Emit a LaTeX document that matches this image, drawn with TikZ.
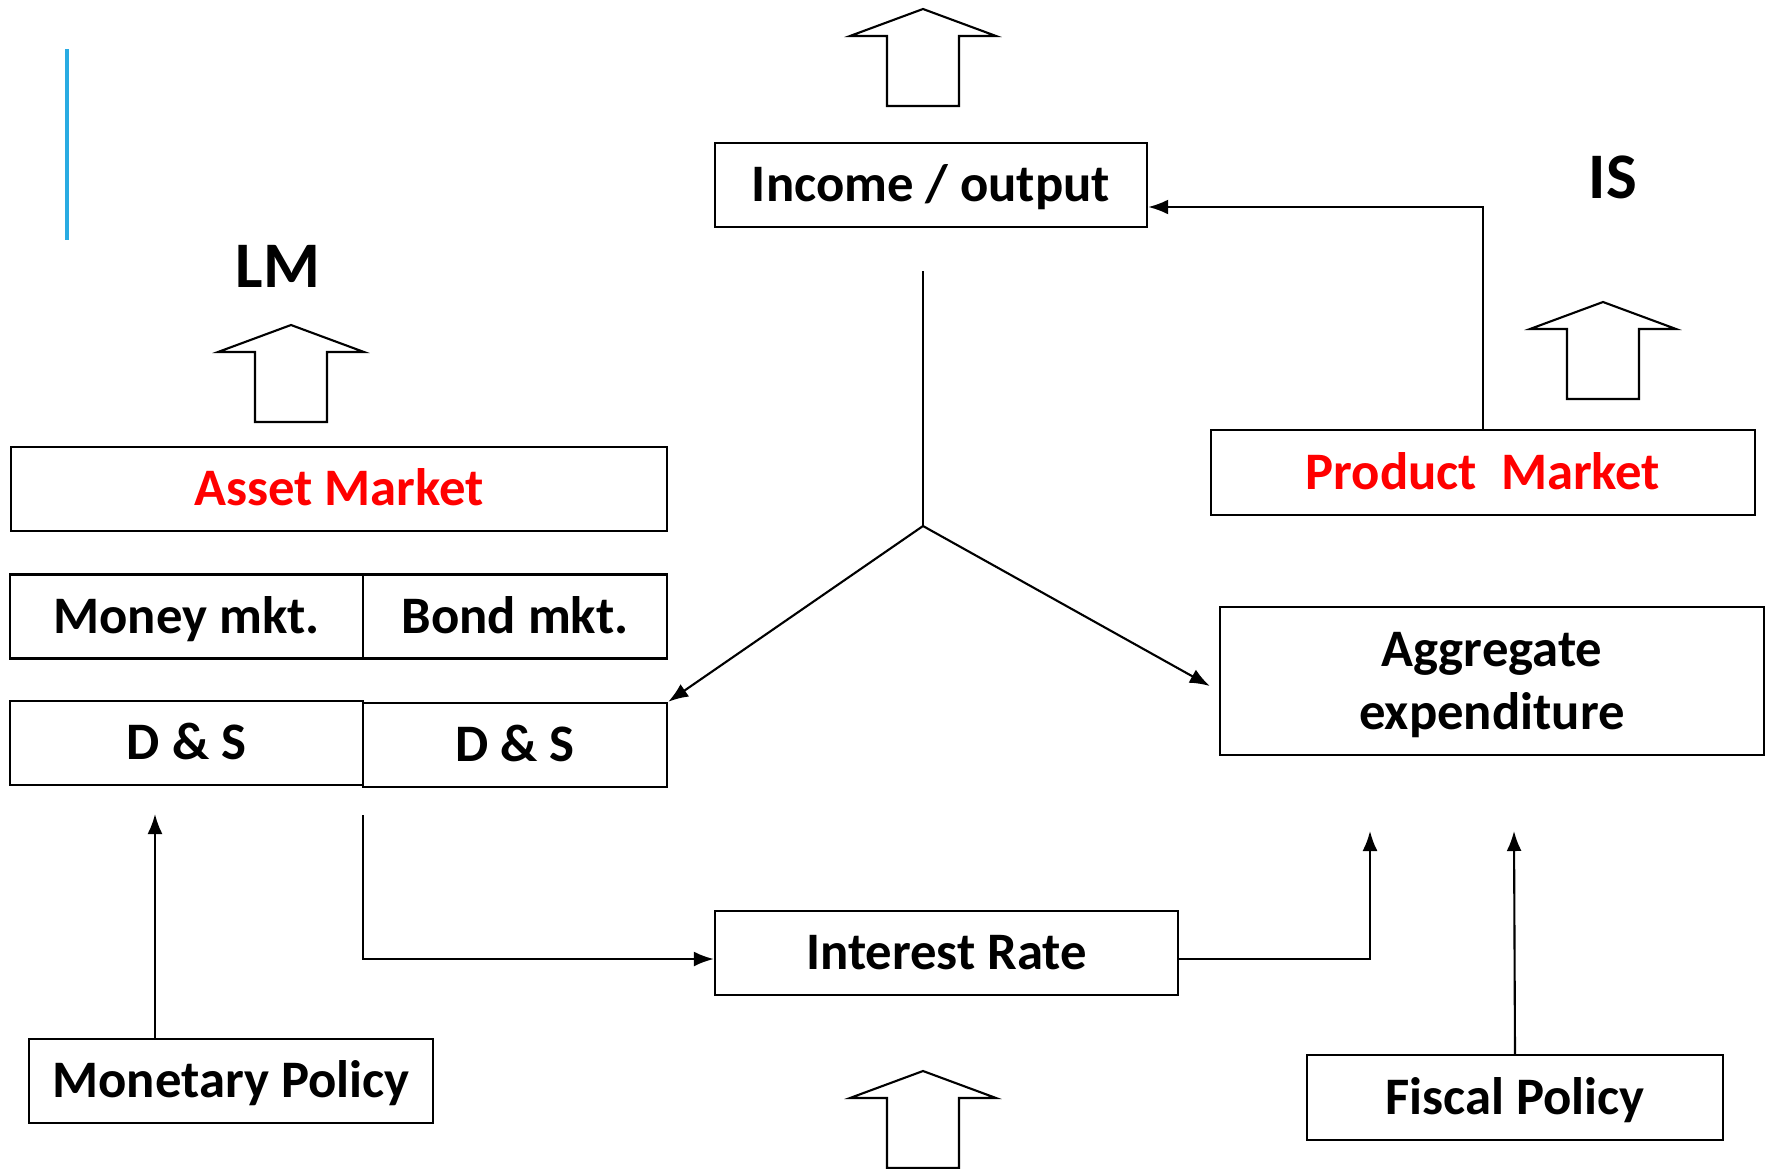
\documentclass[tikz,border=0pt]{standalone}
\usepackage{fontspec}
\setmainfont{Carlito}
\usetikzlibrary{arrows.meta}
\definecolor{accentblue}{RGB}{41,171,226}
\definecolor{mktred}{RGB}{255,0,0}

\begin{document}
\begin{tikzpicture}[
  x=0.1mm,y=-0.1mm,
  font=\bfseries\fontsize{15pt}{18pt}\selectfont,
  >={Latex[length=2mm,width=1.5mm]},
  box/.style={draw,line width=0.7pt,inner sep=0pt,align=center,minimum height=8.4mm,
    text height=9.66pt,text depth=0pt},
  curve/.style={font=\bfseries\fontsize{18.5pt}{22pt}\selectfont},
  link/.style={line width=0.6pt},
  bigarrow/.pic={\draw[line width=0.6pt] (0,0) -- (73,27) -- (36,27) -- (36,97) -- (-36,97) -- (-36,27) -- (-73,27) -- cycle;}
]
\clip (0,0) rectangle (1771,1168);
\draw[accentblue,line width=1.2pt] (67,49) -- (67,240);

% labels and block arrows
\node[curve] (lm) at (278,266) {LM};
\node[curve] (is) at (1613,177) {IS};
\pic at (291,325) {bigarrow};
\pic at (1603,302) {bigarrow};
\pic at (923,9) {bigarrow};
\pic at (923,1071) {bigarrow};

% boxes
\node[box,minimum width=43.2mm] (inc) at (931,185) {Income / output};
\node[box,minimum width=65.6mm,text=mktred] (asset) at (339,489) {Asset Market};
\node[box,minimum width=35.3mm] (money) at (186.5,616.5) {Money mkt.};
\node[box,minimum width=30.4mm] (bond) at (515,616.5) {Bond mkt.};
\node[box,minimum width=35.3mm] (dsm) at (186.5,743) {D \& S};
\node[box,minimum width=30.4mm] (dsb) at (515,745) {D \& S};
\node[box,minimum width=40.4mm] (mon) at (231,1081) {Monetary Policy};
\node[box,minimum width=46.3mm] (rate) at (946.5,953) {Interest Rate};
\node[box,minimum width=41.6mm,minimum height=8.5mm] (fisc) at (1515,1097.5) {Fiscal Policy};
\node[box,minimum width=54.4mm,minimum height=14.8mm,text height=27.66pt] (agg) at (1492,681) {Aggregate\\expenditure};
\node[box,minimum width=54.4mm,minimum height=8.5mm,text=mktred] (prod) at (1483,472.5) {Product\ \ Market};

% connectors
\coordinate (forktop) at (923,271);
\coordinate (fork) at (923,526);
\coordinate (montip) at (155,814);
\coordinate (dsout) at (363,815);
\coordinate (aein) at (1370,831);
\coordinate (fiscin) at (1514,831);
\draw[link] (forktop) -- (fork);
\draw[link,->] (fork) -- (dsb.north east);
\draw[link,->] (fork) -- ([xshift=-0.9mm,yshift=-0.5mm]agg.west);
\draw[link,->] (mon.north -| montip) -- (montip);
\draw[link,->] (dsout) |- ([yshift=-0.6mm]rate.west);
\draw[link,->] ([yshift=-0.6mm]rate.east) -| (aein);
\draw[link,->] (fisc.north) -- (fiscin);
\draw[link,->] (prod.north) |- ([yshift=-2.2mm]inc.east);
\end{tikzpicture}
\end{document}
